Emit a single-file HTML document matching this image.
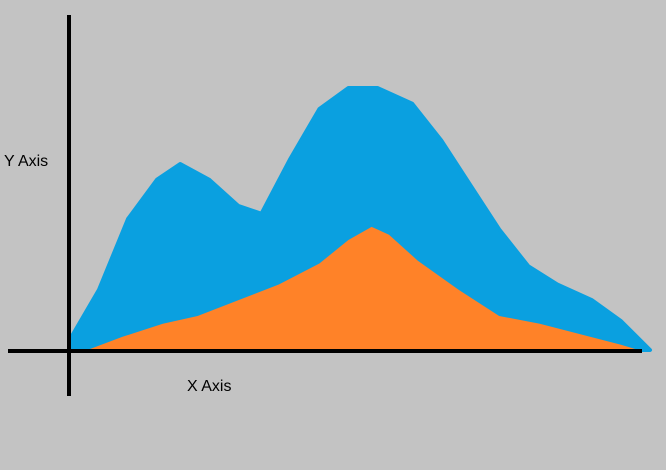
<!DOCTYPE html>
<html><head><meta charset="utf-8"><style>
html,body{margin:0;padding:0;background:#c3c3c3;}
svg{display:block;}
text{font-family:"Liberation Sans",sans-serif;font-size:16px;fill:#000;}
</style></head><body>
<svg id="chart" width="666" height="470">
  <rect x="0" y="0" width="666" height="470" fill="#c3c3c3"/>
  <g id="series"></g>
  <line x1="69" y1="15" x2="69" y2="396" stroke="#000" stroke-width="4"/>
  <line x1="8" y1="351" x2="642" y2="351" stroke="#000" stroke-width="4"/>
  <text x="4" y="166">Y Axis</text>
  <text x="187" y="391">X Axis</text>
</svg>
<script>
const blueX = [0,5,10,15,19,24,29,33,38,43,48,53,59,64,69,74,79,84,90,95,100];
const blueY = [4,23,50,65,71,65,55,52,73,92,100,100,94,80,63,46,32,25,19,11,0];
const orangeX = [3,9,16,22,29,36,43,48,52,55,60,67,74,81,88,95,98];
const orangeY = [0,5,10,13,19,25,33,42,47,44,34,23,13,10,6,2,0];

function xScale(v){ return 70 + v*5.8; }
function yScale(v){ return 350 - v*2.62; }

function areaPath(xs, ys){
  let d = 'M' + xScale(xs[0]) + ',' + yScale(0);
  for (let i=0;i<xs.length;i++) d += ' L' + xScale(xs[i]) + ',' + yScale(ys[i]);
  d += ' L' + xScale(xs[xs.length-1]) + ',' + yScale(0) + ' Z';
  return d;
}
const g = document.getElementById('series');
const ns = 'http://www.w3.org/2000/svg';
const blue = document.createElementNS(ns,'path');
blue.setAttribute('d', areaPath(blueX, blueY));
blue.setAttribute('fill', '#0aa0e0');
blue.setAttribute('stroke', '#0aa0e0');
blue.setAttribute('stroke-width', '4');
blue.setAttribute('stroke-linejoin', 'round');


g.appendChild(blue);
const orange = document.createElementNS(ns,'path');
orange.setAttribute('d', areaPath(orangeX, orangeY));
orange.setAttribute('fill', '#ff8228');


g.appendChild(orange);
</script>
</body></html>
